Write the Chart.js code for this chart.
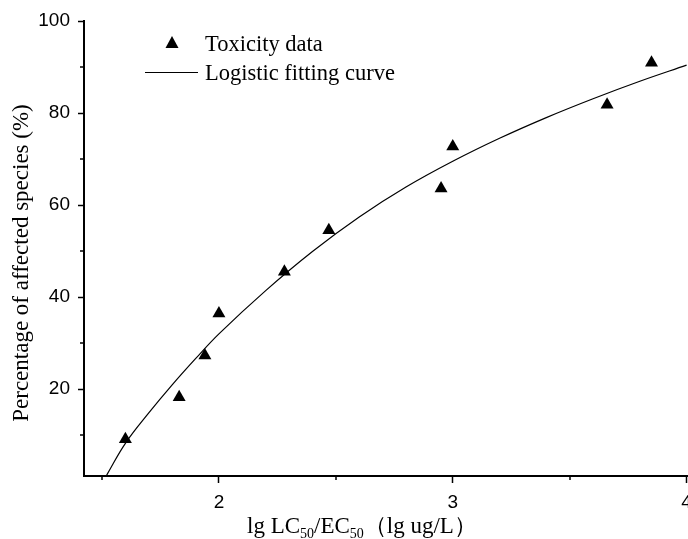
<!DOCTYPE html>
<html>
<head>
<meta charset="utf-8">
<script src="https://cdn.jsdelivr.net/npm/chart.js@4/dist/chart.umd.min.js"></script>
<style>
	html, body { margin: 0; padding: 0; background: #fff; }
	#wrap { width: 688px; height: 539px; }
</style>
</head>
<body>
<div id="wrap"><canvas id="ssd" width="688" height="539"></canvas></div>
<script>
// toxicity data: lg LC50/EC50 vs cumulative percentage of affected species
const toxX = [1.60, 1.83, 1.94, 2.00, 2.28, 2.47, 2.95, 3.00, 3.66, 3.85];
const toxY = [9.1, 18.2, 27.3, 36.4, 45.5, 54.5, 63.6, 72.7, 81.8, 90.9];

// logistic fitting curve
const fitX = [1.52, 1.6, 1.7, 1.8, 1.9, 2.0, 2.2, 2.4, 2.6, 2.8, 3.0, 3.2, 3.4, 3.6, 3.8, 4.0];
const fitY = [1.3, 8.2, 14.8, 20.9, 26.6, 32.0, 41.4, 49.9, 57.4, 63.9, 69.5, 74.5, 79.0, 83.1, 86.9, 90.4];

const xMinorTicks = [1.5, 2.5, 3.5];
const yMinorTicks = [10, 30, 50, 70, 90];

const serif = '"Liberation Serif", "Times New Roman", serif';
const sans = '"Liberation Sans", Arial, sans-serif';

function pts(xs, ys) {
	return xs.map(function(x, i) { return {x: x, y: ys[i]}; });
}

// minor ticks, axis titles and the legend box
const extras = {
	id: 'extras',
	afterDraw: function(chart) {
		const ctx = chart.ctx;
		const xs = chart.scales.x, ys = chart.scales.y;
		const area = chart.chartArea;
		ctx.save();
		ctx.strokeStyle = '#000';
		ctx.lineWidth = 1.5;
		xMinorTicks.forEach(function(v) {
			const px = Math.round(xs.getPixelForValue(v));
			ctx.beginPath(); ctx.moveTo(px, area.bottom); ctx.lineTo(px, area.bottom + 4); ctx.stroke();
		});
		yMinorTicks.forEach(function(v) {
			const py = Math.round(ys.getPixelForValue(v));
			ctx.beginPath(); ctx.moveTo(area.left - 4, py); ctx.lineTo(area.left, py); ctx.stroke();
		});

		ctx.fillStyle = '#000';
		// y title
		ctx.save();
		ctx.font = '23px ' + serif;
		ctx.translate(28, 263);
		ctx.rotate(-Math.PI / 2);
		ctx.textAlign = 'center';
		ctx.textBaseline = 'alphabetic';
		ctx.fillText('Percentage of affected species (%)', 0, 0);
		ctx.restore();

		// x title with subscripts
		const parts = [['lg LC', 0], ['50', 1], ['/EC', 0], ['50', 1], ['（lg ug/L）', 0]];
		let cx = 247;
		const base = 533;
		ctx.textAlign = 'left';
		ctx.textBaseline = 'alphabetic';
		parts.forEach(function(p) {
			ctx.font = (p[1] ? '14px ' : '23px ') + serif;
			ctx.fillText(p[0], cx, p[1] ? base + 5 : base);
			cx += ctx.measureText(p[0]).width;
		});

		// legend
		const ds = chart.data.datasets;
		ctx.font = '22.5px ' + serif;
		ctx.beginPath();
		ctx.moveTo(172, 36); ctx.lineTo(178.5, 48); ctx.lineTo(165.5, 48); ctx.closePath();
		ctx.fill();
		ctx.fillText(ds[0].label, 205, 51);
		ctx.lineWidth = 1;
		ctx.beginPath(); ctx.moveTo(145, 72.5); ctx.lineTo(198, 72.5); ctx.stroke();
		ctx.fillText(ds[1].label, 205, 80);
		ctx.restore();
	}
};

new Chart(document.getElementById('ssd'), {
	type: 'scatter',
	data: {
		datasets: [{
			label: 'Toxicity data',
			data: pts(toxX, toxY),
			pointStyle: 'triangle',
			pointRadius: 7.5,
			pointBackgroundColor: '#000',
			pointBorderWidth: 0,
			showLine: false
		}, {
			label: 'Logistic fitting curve',
			data: pts(fitX, fitY),
			showLine: true,
			borderColor: '#000',
			borderWidth: 1.2,
			pointRadius: 0,
			tension: 0.4,
			fill: false
		}]
	},
	options: {
		responsive: false,
		animation: false,
		devicePixelRatio: 1,
		layout: {autoPadding: false, padding: {top: 21, right: 0, left: 0, bottom: 0}},
		plugins: {
			legend: {display: false},
			tooltip: {enabled: false}
		},
		scales: {
			x: {
				type: 'linear',
				min: 1.423,
				max: 4.006,
				afterFit: function(s) { s.height = 63; s.paddingLeft = 0; s.paddingRight = 0; },
				border: {display: true, color: '#000', width: 2},
				grid: {drawOnChartArea: false, drawTicks: true, tickLength: 7, tickColor: '#000', tickWidth: 1.5},
				ticks: {
					stepSize: 1,
					includeBounds: false,
					padding: 8,
					color: '#000',
					maxRotation: 0,
					font: {family: sans, size: 19}
				}
			},
			y: {
				type: 'linear',
				min: 1.1,
				max: 100,
				afterFit: function(s) { s.width = 84; s.paddingTop = 0; s.paddingBottom = 0; },
				border: {display: true, color: '#000', width: 2},
				grid: {drawOnChartArea: false, drawTicks: true, tickLength: 6, tickColor: '#000', tickWidth: 1.5},
				ticks: {
					stepSize: 20,
					includeBounds: false,
					padding: 8,
					color: '#000',
					font: {family: sans, size: 19}
				}
			}
		}
	},
	plugins: [extras]
});
</script>
</body>
</html>
